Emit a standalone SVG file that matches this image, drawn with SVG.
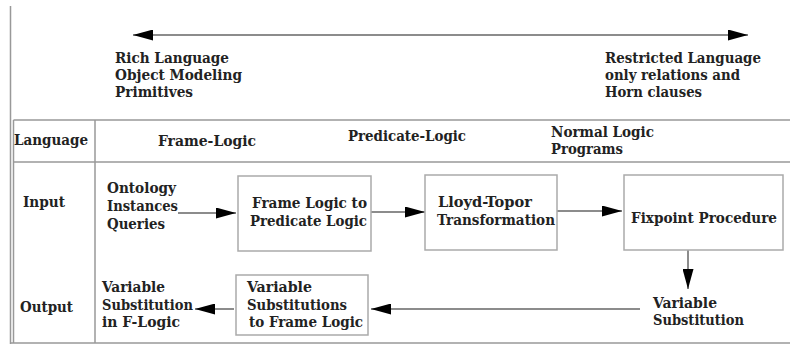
<svg xmlns="http://www.w3.org/2000/svg" width="790" height="345" viewBox="0 0 790 345">
<style>
  text { font-family: 'DejaVu Serif Condensed', 'DejaVu Serif', 'Liberation Serif', serif; font-stretch: condensed; font-weight: 700; font-size: 14.6px; fill: #222; }
  .frame { stroke: #999; stroke-width: 1.5; fill: none; }
  .box { stroke: #aaa; stroke-width: 1.5; fill: #fff; }
  .conn { stroke: #666; stroke-width: 1.5; fill: none; marker-end: url(#arrow); }
</style>
<defs>
  <marker id="arrow" markerUnits="userSpaceOnUse" markerWidth="20" markerHeight="11" viewBox="0 0 20 11" refX="20" refY="5.5" orient="auto-start-reverse">
    <path d="M0,0 L20,5.5 L0,11 z" fill="#000"/>
  </marker>
</defs>
<rect width="790" height="345" fill="#fff"/>

<g id="frame">
  <line class="frame" x1="10.5" y1="6" x2="10.5" y2="344"/>
  <line class="frame" x1="13.5" y1="120" x2="13.5" y2="343"/>
  <line class="frame" x1="13.5" y1="120" x2="790" y2="120"/>
  <line class="frame" x1="13.5" y1="162" x2="790" y2="162"/>
  <line class="frame" x1="95" y1="120" x2="95" y2="343"/>
  <line class="frame" x1="10" y1="343" x2="790" y2="343"/>
</g>

<g id="scale">
  <line class="conn" x1="133" y1="35" x2="748" y2="35" style="marker-start:url(#arrow)"/>
  <text x="115" y="63" textLength="114" lengthAdjust="spacingAndGlyphs">Rich Language</text>
  <text x="115" y="80" textLength="127" lengthAdjust="spacingAndGlyphs">Object Modeling</text>
  <text x="115" y="97" textLength="78" lengthAdjust="spacingAndGlyphs">Primitives</text>
  <text x="605" y="63" textLength="156" lengthAdjust="spacingAndGlyphs">Restricted Language</text>
  <text x="605" y="80" textLength="135" lengthAdjust="spacingAndGlyphs">only relations and</text>
  <text x="605" y="97" textLength="97" lengthAdjust="spacingAndGlyphs">Horn clauses</text>
</g>

<g id="headers">
  <text x="14" y="145" textLength="74" lengthAdjust="spacingAndGlyphs">Language</text>
  <text x="158" y="146" textLength="98" lengthAdjust="spacingAndGlyphs">Frame-Logic</text>
  <text x="348" y="141" textLength="118" lengthAdjust="spacingAndGlyphs">Predicate-Logic</text>
  <text x="551" y="137" textLength="103" lengthAdjust="spacingAndGlyphs">Normal Logic</text>
  <text x="551" y="154" textLength="72" lengthAdjust="spacingAndGlyphs">Programs</text>
  <text x="23" y="207" textLength="42" lengthAdjust="spacingAndGlyphs">Input</text>
  <text x="20" y="312" textLength="53" lengthAdjust="spacingAndGlyphs">Output</text>
</g>

<g id="connectors">
  <line class="conn" x1="178" y1="213" x2="236" y2="213"/>
  <line class="conn" x1="371" y1="212" x2="425" y2="212"/>
  <line class="conn" x1="557" y1="211" x2="622" y2="211"/>
  <line class="conn" x1="688" y1="250" x2="688" y2="289"/>
  <line class="conn" x1="640" y1="309" x2="371" y2="309"/>
  <line class="conn" x1="234" y1="309" x2="195" y2="309"/>
</g>

<g id="input-sources">
  <text x="107" y="193" textLength="69" lengthAdjust="spacingAndGlyphs">Ontology</text>
  <text x="107" y="211" textLength="71" lengthAdjust="spacingAndGlyphs">Instances</text>
  <text x="107" y="229" textLength="58" lengthAdjust="spacingAndGlyphs">Queries</text>
</g>

<g id="frame-to-predicate">
  <rect class="box" x="238" y="176" width="133" height="75"/>
  <text x="252" y="208" textLength="115" lengthAdjust="spacingAndGlyphs">Frame Logic to</text>
  <text x="250" y="226" textLength="117" lengthAdjust="spacingAndGlyphs">Predicate Logic</text>
</g>

<g id="lloyd-topor">
  <rect class="box" x="425" y="175" width="132" height="75"/>
  <text x="438" y="207" textLength="94" lengthAdjust="spacingAndGlyphs">Lloyd-Topor</text>
  <text x="437" y="225" textLength="118" lengthAdjust="spacingAndGlyphs">Transformation</text>
</g>

<g id="fixpoint">
  <rect class="box" x="624" y="175" width="159" height="75"/>
  <text x="631" y="223" textLength="146" lengthAdjust="spacingAndGlyphs">Fixpoint Procedure</text>
</g>

<g id="variable-substitution">
  <text x="653" y="308" textLength="64" lengthAdjust="spacingAndGlyphs">Variable</text>
  <text x="653" y="325" textLength="91" lengthAdjust="spacingAndGlyphs">Substitution</text>
</g>

<g id="substitutions-to-frame">
  <rect class="box" x="236" y="275" width="132" height="60"/>
  <text x="247" y="292" textLength="65" lengthAdjust="spacingAndGlyphs">Variable</text>
  <text x="247" y="310" textLength="100" lengthAdjust="spacingAndGlyphs">Substitutions</text>
  <text x="249" y="327" textLength="114" lengthAdjust="spacingAndGlyphs">to Frame Logic</text>
</g>

<g id="output-flogic">
  <text x="102" y="292" textLength="63" lengthAdjust="spacingAndGlyphs">Variable</text>
  <text x="102" y="310" textLength="91" lengthAdjust="spacingAndGlyphs">Substitution</text>
  <text x="102" y="327" textLength="78" lengthAdjust="spacingAndGlyphs">in F-Logic</text>
</g>
</svg>
